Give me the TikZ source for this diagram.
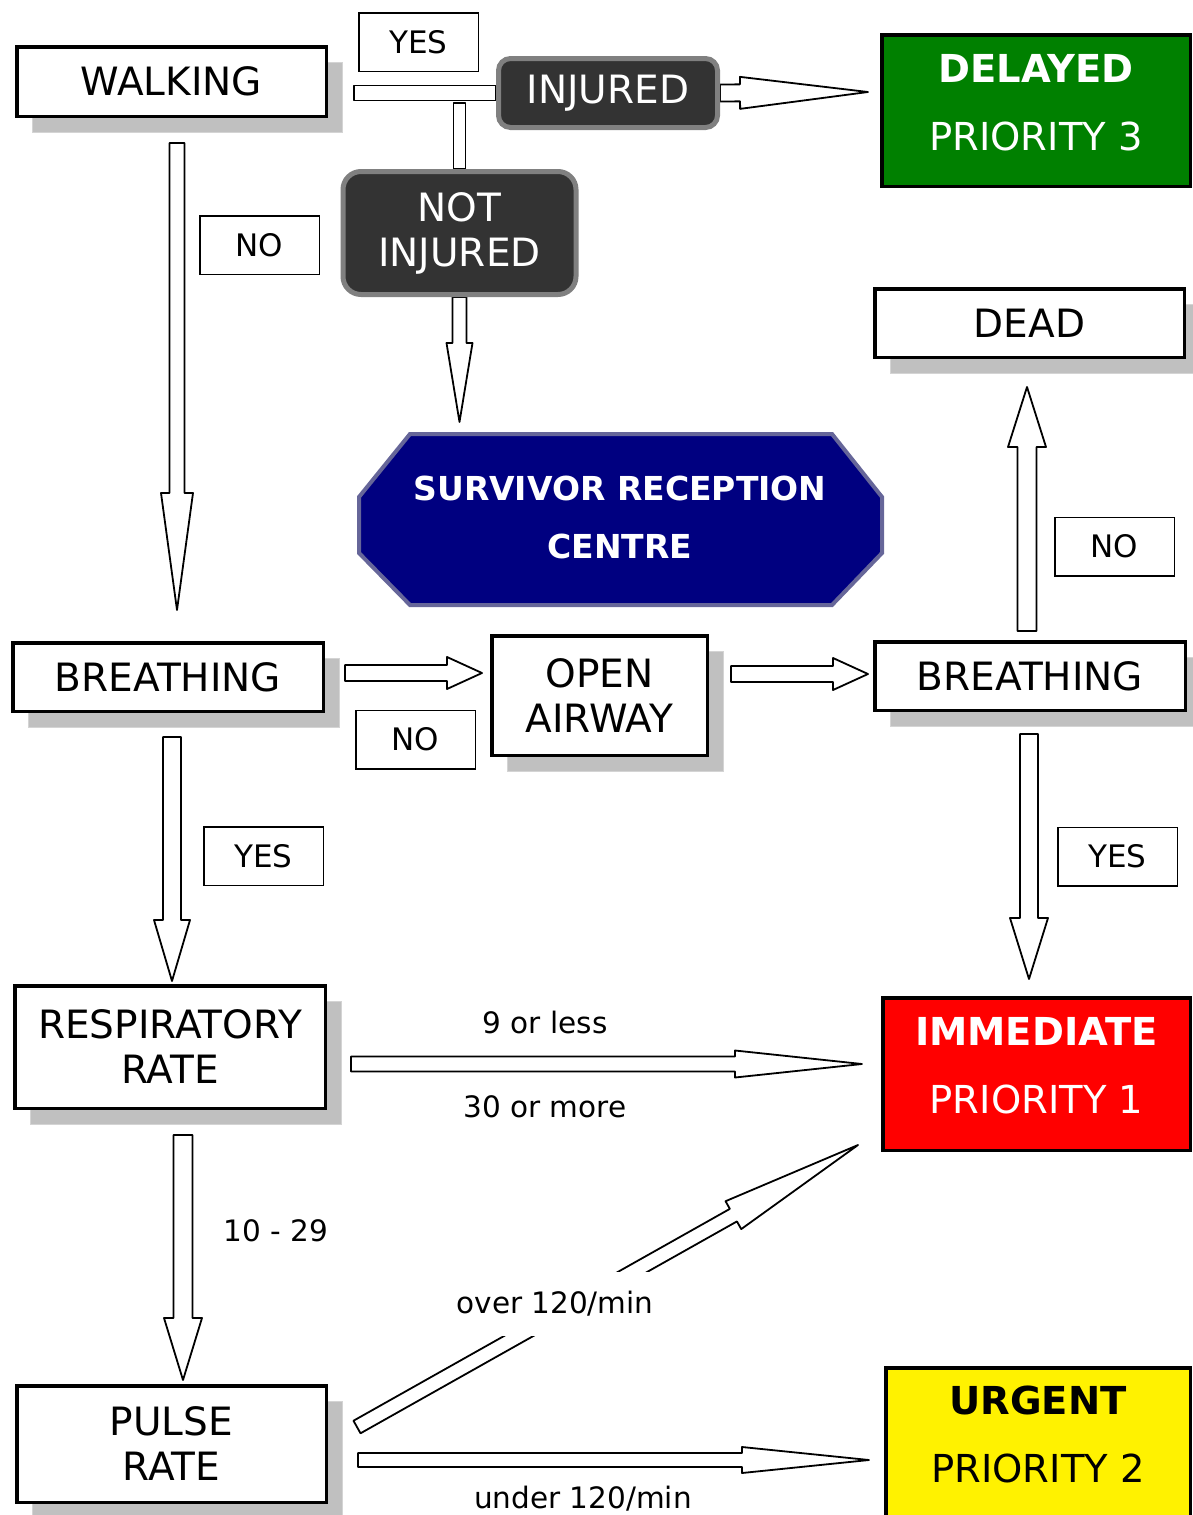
\documentclass[tikz,border=0pt]{standalone}
\usepackage{fontspec}
\setmainfont{DejaVu Sans}
\usetikzlibrary{calc}
\usetikzlibrary{shadows}
\usetikzlibrary{backgrounds}

\definecolor{shadowgray}{HTML}{C0C0C0}
\definecolor{shadowedge}{HTML}{D4D4D4}
\definecolor{darkfill}{HTML}{333333}
\definecolor{darkedge}{HTML}{808080}
\definecolor{srcfill}{HTML}{000080}
\definecolor{srcedge}{HTML}{666699}
\definecolor{delayedgreen}{HTML}{008000}

\tikzset{
  bigtext/.style={font=\fontsize{39}{45}\selectfont},
  stepbox/.style={draw, line width=3.5pt, fill=white, inner sep=0pt, align=center, bigtext,
    general shadow={fill=shadowgray, draw=shadowedge, line width=1pt, shadow xshift=16pt, shadow yshift=-16pt}},
  darkbox/.style={draw=darkedge, fill=darkfill, line width=5pt, rounded corners=12pt, text=white,
    inner sep=0pt, align=center, bigtext},
  prio/.style={draw, line width=3.5pt, inner sep=0pt, align=center, font=\fontsize{38.5}{68}\selectfont,
    text depth=17pt},
  tag/.style={draw, line width=1.5pt, fill=white, minimum width=119.5pt, minimum height=58.5pt,
    inner sep=0pt, font=\fontsize{31}{36}\selectfont},
  edgelabel/.style={font=\fontsize{29.5}{36}\selectfont, inner sep=0pt},
  fatline/.style={draw, line width=1.8pt, fill=white, line join=round}
}

% hollow block arrow: from, tip, half shaft, half head, head length
\newcommand{\fatarrow}[5]{%
  \coordinate (fa-base) at ($(#2)!#5!(#1)$);
  \draw[fatline] ($(#1)!#3!90:(#2)$) -- ($(fa-base)!#3!90:(#2)$) -- ($(fa-base)!#4!90:(#2)$) -- (#2)
    -- ($(fa-base)!#4!-90:(#2)$) -- ($(fa-base)!#3!-90:(#2)$) -- ($(#1)!#3!-90:(#2)$) -- cycle;
}
% hollow bar without head: from, to, half width
\newcommand{\fatbar}[3]{%
  \draw[fatline] ($(#1)!#3!90:(#2)$) -- ($(#2)!#3!-90:(#1)$) -- ($(#2)!#3!90:(#1)$) -- ($(#1)!#3!-90:(#2)$) -- cycle;
}

\begin{document}
\begin{tikzpicture}[x=1pt, y=-1pt]
\path[use as bounding box, clip] (0,0) rectangle (1193,1515);

% steps
\node[stepbox, minimum width=309.5pt, minimum height=69.5pt] (walk) at (171.5,81.5) {WALKING};
\node[stepbox, minimum width=310.5pt, minimum height=68.5pt] (breathL) at (168,677) {BREATHING};
\node[stepbox, minimum width=310.5pt, minimum height=68.5pt] (breathR) at (1030,676) {BREATHING};
\node[stepbox, minimum width=309.5pt, minimum height=68.5pt] (dead) at (1029.5,323) {DEAD};
\node[stepbox, minimum width=215.5pt, minimum height=119.5pt] (airway) at (599.5,695.5) {OPEN\\AIRWAY};
\node[stepbox, minimum width=310.5pt, minimum height=122.5pt] (resp) at (170,1047) {RESPIRATORY\\RATE};
\node[stepbox, minimum width=309.5pt, minimum height=116.5pt] (pulse) at (171.5,1444) {PULSE\\RATE};

\node[darkbox, minimum width=219pt, minimum height=69pt] (injured) at (608,93) {INJURED};
\node[darkbox, rounded corners=18pt, minimum width=233pt, minimum height=123pt] (notinj) at (459.5,233) {NOT\\INJURED};

% survivor reception centre
\filldraw[draw=srcedge, fill=srcfill, line width=4pt] (410,434) -- (832,434) -- (882,497) -- (882,553)
  -- (832,605) -- (410,605) -- (359,553) -- (359,497) -- cycle;
\node[text=white, font=\fontsize{33}{58}\selectfont\bfseries, align=center] (src) at (620,517) {SURVIVOR RECEPTION\\CENTRE};

% priorities
\node[prio, fill=delayedgreen, text=white, minimum width=308.5pt, minimum height=151.5pt] (delayed) at (1036,110.5) {\textbf{DELAYED}\\PRIORITY 3};
\node[prio, fill=red, text=white, minimum width=307.5pt, minimum height=152.5pt] (immediate) at (1036.5,1074) {\textbf{IMMEDIATE}\\PRIORITY 1};
\node[prio, fill=yellow, minimum width=304.5pt, minimum height=150.5pt] (urgent) at (1038,1443) {\textbf{URGENT}\\PRIORITY 2};

% answers
\node[tag] (yes-walk) at (418.5,42) {YES};
\node[tag] (no-walk) at (259.5,245) {NO};
\node[tag] (no-dead) at (1114.5,546.5) {NO};
\node[tag] (no-breath) at (415.5,739.5) {NO};
\node[tag] (yes-breathL) at (263.5,856) {YES};
\node[tag] (yes-breathR) at (1117.5,856.5) {YES};

\node[edgelabel] (lless) at (545,1022) {9 or less};
\node[edgelabel] (lmore) at (545,1107) {30 or more};
\node[edgelabel] (lmid) at (276,1231) {10 - 29};
\node[edgelabel, fill=white, inner xsep=6pt, inner ysep=19pt] (lover) at (555,1304) {over 120/min};
\node[edgelabel] (lunder) at (583,1499) {under 120/min};

% arrow ends
\coordinate (walk-yes) at (354,93);
\coordinate (inj-split) at (459.5,103);
\coordinate (delayed-in) at (868,92);
\coordinate (src-in) at (459.5,422);
\coordinate (walk-out) at (177,143);
\coordinate (breathL-in) at (177,610);
\coordinate (breathL-out) at (345,673);
\coordinate (airway-in) at (482,673);
\coordinate (airway-out) at (731,674);
\coordinate (breathR-in) at (868,674);
\coordinate (breathR-up) at (1027,631);
\coordinate (dead-in) at (1027,387);
\coordinate (breathR-down) at (1029,734);
\coordinate (imm-top) at (1029,979);
\coordinate (breathL-down) at (172,737);
\coordinate (resp-in) at (172,981);
\coordinate (resp-right) at (351,1064);
\coordinate (imm-left) at (862,1064);
\coordinate (resp-down) at (183,1135);
\coordinate (pulse-in) at (183,1380);
\coordinate (pulse-up) at (357,1427);
\coordinate (imm-low) at (858,1145);
\coordinate (pulse-right) at (358,1460);
\coordinate (urg-in) at (869,1460);

\begin{scope}[on background layer]
\fatbar{walk-yes}{injured.west}{7.5pt}
\fatbar{inj-split}{notinj.north}{6pt}
\fatarrow{injured.east}{delayed-in}{8.5pt}{16pt}{128pt}
\fatarrow{notinj.south}{src-in}{7pt}{13pt}{79pt}
\fatarrow{walk-out}{breathL-in}{7.5pt}{16pt}{117pt}
\fatarrow{breathL-out}{airway-in}{8pt}{16pt}{35pt}
\fatarrow{airway-out}{breathR-in}{8pt}{16pt}{35pt}
\fatarrow{breathR-up}{dead-in}{9.5pt}{19pt}{60pt}
\fatarrow{breathR-down}{imm-top}{9pt}{19pt}{61pt}
\fatarrow{breathL-down}{resp-in}{9pt}{18pt}{61pt}
\fatarrow{resp-right}{imm-left}{7.5pt}{13.5pt}{127pt}
\fatarrow{resp-down}{pulse-in}{9.5pt}{19pt}{62pt}
\fatarrow{pulse-up}{imm-low}{7.2pt}{16pt}{143pt}
\fatarrow{pulse-right}{urg-in}{7pt}{13pt}{127pt}
\end{scope}
\end{tikzpicture}
\end{document}
